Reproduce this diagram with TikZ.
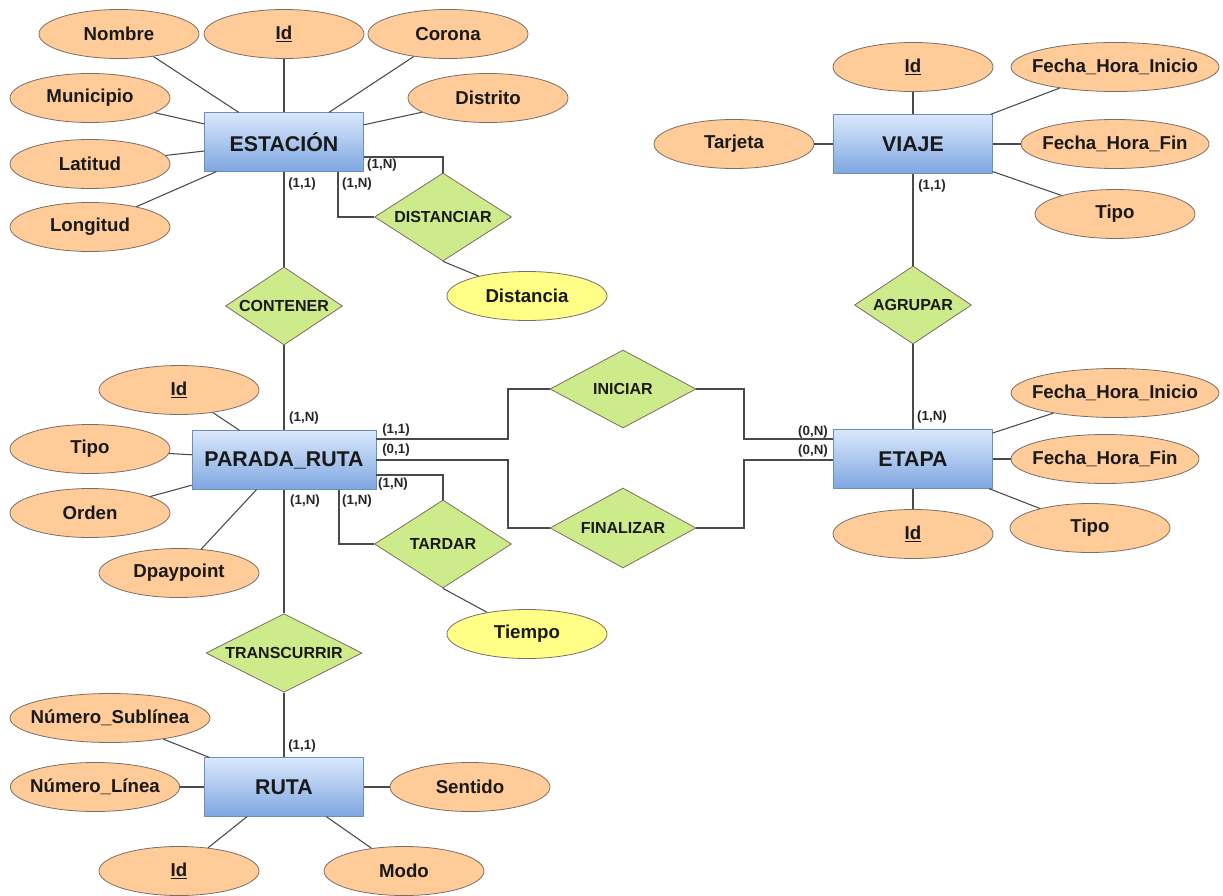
\documentclass[tikz,border=0pt]{standalone}
\usepackage{fontspec}
\setmainfont{Liberation Sans}
\usetikzlibrary{shapes.geometric}

\definecolor{attrfill}{HTML}{FFCC99}
\definecolor{derivfill}{HTML}{FFFF88}
\definecolor{relfill}{HTML}{CDEB8B}
\definecolor{shapeline}{HTML}{7A6E62}
\definecolor{enttop}{HTML}{DAE8FC}
\definecolor{entbot}{HTML}{7EA6E0}
\definecolor{entline}{HTML}{6C8EBF}
\definecolor{wirecol}{HTML}{4A4A4A}

% zero-width text box so that the shape keeps its given size
\newcommand{\nowd}[1]{\makebox[0pt]{#1}}

\tikzset{
  entity/.style={rectangle, draw=entline, top color=enttop, bottom color=entbot,
    minimum width=#1, minimum height=44pt, inner sep=0pt,
    font=\bfseries\fontsize{16}{18}\selectfont, text=black!90},
  entity/.default=119pt,
  attr/.style={ellipse, draw=shapeline, fill=attrfill, line width=0.6pt,
    minimum width=#1, minimum height=36.75pt, inner sep=0pt,
    font=\bfseries\fontsize{14}{16}\selectfont, text=black!90},
  attr/.default=120pt,
  derived/.style={attr, fill=derivfill},
  rel/.style 2 args={diamond, draw=shapeline, fill=relfill, line width=0.6pt,
    minimum width=#1, minimum height=#2, inner sep=0pt,
    font=\bfseries\fontsize{12}{14}\selectfont, text=black!90},
  card/.style={font=\bfseries\fontsize{10}{12}\selectfont, text=black!85, inner sep=0pt},
  wire/.style={draw=wirecol, line width=0.8pt},
}

\begin{document}
\begin{tikzpicture}[x=0.75pt, y=-0.75pt]
\useasboundingbox (0,0) rectangle (1223,895);

% ---------- ESTACION ----------
\node[entity] (est) at (284,142) {ESTACIÓN};
\node[attr] (eNombre) at (119,34) {\nowd{Nombre}};
\node[attr] (eId) at (284,34) {\nowd{\underline{Id}}};
\node[attr] (eCorona) at (448,34) {\nowd{Corona}};
\node[attr] (eMun) at (90,98) {\nowd{Municipio}};
\node[attr] (eDistrito) at (488,98) {\nowd{Distrito}};
\node[attr] (eLat) at (90,164) {\nowd{Latitud}};
\node[attr] (eLon) at (90,227) {\nowd{Longitud}};

\node[rel={87.75pt}{58.5pt}] (contener) at (284,306) {\nowd{CONTENER}};
\node[rel={102.75pt}{66pt}] (distanciar) at (443,217) {\nowd{DISTANCIAR}};
\node[derived] (distancia) at (527,296) {\nowd{Distancia}};

% ---------- VIAJE ----------
\node[entity] (viaje) at (913,144) {VIAJE};
\node[attr] (vId) at (913,67) {\nowd{\underline{Id}}};
\node[attr=156pt] (vIni) at (1115,67) {\nowd{Fecha\_Hora\_Inicio}};
\node[attr] (vTarjeta) at (734,144) {\nowd{Tarjeta}};
\node[attr=141pt] (vFin) at (1115,144) {\nowd{Fecha\_Hora\_Fin}};
\node[attr] (vTipo) at (1115,214) {\nowd{Tipo}};
\node[rel={87.75pt}{58.5pt}] (agrupar) at (913,305) {\nowd{AGRUPAR}};

% ---------- PARADA_RUTA ----------
\node[entity=138pt] (pr) at (284,460) {PARADA\_RUTA};
\node[attr] (pId) at (179,390) {\nowd{\underline{Id}}};
\node[attr] (pTipo) at (90,449) {\nowd{Tipo}};
\node[attr] (pOrden) at (90,513) {\nowd{Orden}};
\node[attr] (pDpay) at (179,573) {\nowd{Dpaypoint}};

\node[rel={102.75pt}{66pt}] (tardar) at (443,544) {\nowd{TARDAR}};
\node[derived] (tiempo) at (527,634) {\nowd{Tiempo}};
\node[rel={117pt}{59pt}] (transcurrir) at (284,653) {\nowd{TRANSCURRIR}};
\node[rel={109.5pt}{58.5pt}] (iniciar) at (623,389) {\nowd{INICIAR}};
\node[rel={109.5pt}{60pt}] (finalizar) at (623,528) {\nowd{FINALIZAR}};

% ---------- ETAPA ----------
\node[entity] (etapa) at (913,459) {ETAPA};
\node[attr=156pt] (tIni) at (1115,393) {\nowd{Fecha\_Hora\_Inicio}};
\node[attr=141pt] (tFin) at (1105,459) {\nowd{Fecha\_Hora\_Fin}};
\node[attr] (tId) at (913,534) {\nowd{\underline{Id}}};
\node[attr] (tTipo) at (1090,528) {\nowd{Tipo}};

% ---------- RUTA ----------
\node[entity] (ruta) at (284,787) {RUTA};
\node[attr=150pt] (rSub) at (110,718) {\nowd{Número\_Sublínea}};
\node[attr=127pt] (rLin) at (95,787) {\nowd{Número\_Línea}};
\node[attr] (rSent) at (470,787) {\nowd{Sentido}};
\node[attr] (rId) at (179,871) {\nowd{\underline{Id}}};
\node[attr] (rModo) at (404,871) {\nowd{Modo}};

% ---------- attribute links ----------
\begin{scope}[wire]
\foreach \a in {eNombre,eId,eCorona,eMun,eDistrito,eLat,eLon}
  \draw (\a) -- (est);
\foreach \a in {vId,vIni,vTarjeta,vFin,vTipo}
  \draw (\a) -- (viaje);
\foreach \a in {pId,pTipo,pOrden,pDpay}
  \draw (\a) -- (pr);
\foreach \a in {tIni,tFin,tId,tTipo}
  \draw (\a) -- (etapa);
\foreach \a in {rSub,rLin,rSent,rId,rModo}
  \draw (\a) -- (ruta);

% ---------- relationship links ----------
\draw (est) -- (contener);
\draw (contener) -- (pr);
\draw (est.east |- 0,157) -| (distanciar.north);
\draw (338,0 |- est.south) |- (distanciar.west);
\draw (distanciar.south) -- (distancia);

\draw (viaje) -- (agrupar);
\draw (agrupar) -- (etapa);

\draw (pr) -- (transcurrir);
\draw (transcurrir) -- (ruta);
\draw (pr.east |- 0,475) -| (tardar.north);
\draw (339,0 |- pr.south) |- (tardar.west);
\draw (tardar.south) -- (tiempo);

\draw (pr.east |- 0,439) -- (508,439) |- (iniciar.west);
\draw (pr.east |- 0,460) -- (508,460) |- (finalizar.west);
\draw (iniciar.east) -| (744,439) -- (etapa.west |- 0,439);
\draw (finalizar.east) -| (744,460) -- (etapa.west |- 0,460);
\end{scope}

% ---------- cardinalities ----------
\node[card] (c1) at (302,184) {(1,1)};
\node[card] (c2) at (382,165) {(1,N)};
\node[card] (c3) at (357,184) {(1,N)};
\node[card] (c4) at (932,186) {(1,1)};
\node[card] (c5) at (304,418) {(1,N)};
\node[card] (c6) at (396,430) {(1,1)};
\node[card] (c7) at (396,450) {(0,1)};
\node[card] (c8) at (393,484) {(1,N)};
\node[card] (c9) at (305,501) {(1,N)};
\node[card] (c10) at (357,501) {(1,N)};
\node[card] (c11) at (813,432) {(0,N)};
\node[card] (c12) at (813,451) {(0,N)};
\node[card] (c13) at (932,417) {(1,N)};
\node[card] (c14) at (302,746) {(1,1)};
\end{tikzpicture}
\end{document}
